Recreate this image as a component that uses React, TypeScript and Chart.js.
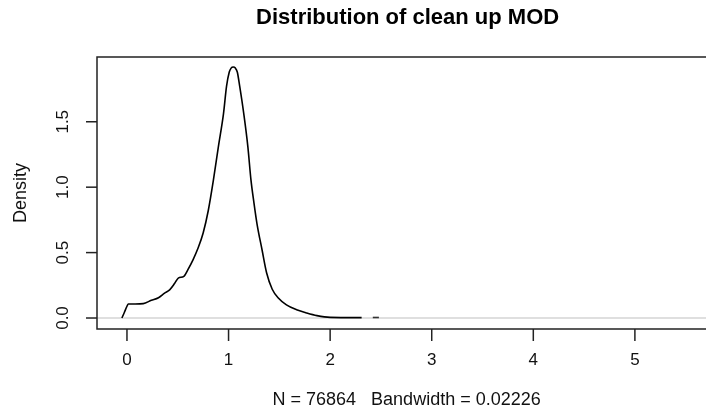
import { useEffect, useRef } from "react";
import { Chart, registerables } from "chart.js";

Chart.register(...registerables);

const chartTitle = "Distribution of clean up MOD";
const xAxisLabel = "N = 76864   Bandwidth = 0.02226";
const yAxisLabel = "Density";

const densityX = [
  -0.05, -0.027, 0.0, 0.013, 0.08, 0.16, 0.24, 0.31, 0.37, 0.42, 0.47, 0.505, 0.56, 0.6, 0.65, 0.7, 0.75,
  0.8, 0.85, 0.9, 0.95, 0.98, 1.007, 1.025, 1.046, 1.067, 1.086, 1.11, 1.15, 1.19, 1.22, 1.25, 1.28, 1.33,
  1.375, 1.43, 1.49, 1.57, 1.67, 1.77, 1.87, 2.0, 2.31,
];
const densityY = [
  0.0, 0.04, 0.09, 0.107, 0.107, 0.11, 0.135, 0.155, 0.19, 0.215, 0.265, 0.305, 0.318, 0.37, 0.445, 0.535,
  0.65, 0.82, 1.05, 1.31, 1.56, 1.77, 1.88, 1.91, 1.918, 1.91, 1.88, 1.77, 1.56, 1.31, 1.06, 0.88, 0.72,
  0.52, 0.344, 0.22, 0.153, 0.1, 0.063, 0.038, 0.018, 0.005, 0.003,
];
const tailX = [2.42, 2.48];
const tailY = [0.004, 0.004];

const xTicks = [0, 1, 2, 3, 4, 5];
const xTickLabels = ["0", "1", "2", "3", "4", "5"];
const yTicks = [0, 0.5, 1, 1.5];
const yTickLabels = ["0.0", "0.5", "1.0", "1.5"];

const xRange = [-0.295, 5.7];
const yRange = [-0.084, 1.995];

const FONT = "'Liberation Sans', Arial, sans-serif";

const rPlotPlugin = {
  id: "rPlot",
  beforeDatasetsDraw(chart: any) {
    const { ctx, chartArea, scales } = chart;
    const y0 = scales.y.getPixelForValue(0);
    ctx.save();
    ctx.strokeStyle = "#d4d4d4";
    ctx.lineWidth = 1.5;
    ctx.beginPath();
    ctx.moveTo(chartArea.left, y0);
    ctx.lineTo(chartArea.right, y0);
    ctx.stroke();
    ctx.restore();
  },
  afterDraw(chart: any) {
    const { ctx, chartArea, scales } = chart;
    const { left, right, top, bottom } = chartArea;
    ctx.save();
    ctx.strokeStyle = "#222";
    ctx.lineWidth = 1.5;
    // box (right side falls outside the picture)
    ctx.beginPath();
    ctx.moveTo(right + 2, top);
    ctx.lineTo(left, top);
    ctx.lineTo(left, bottom);
    ctx.lineTo(right + 2, bottom);
    ctx.stroke();

    ctx.fillStyle = "#111";
    ctx.font = `17px ${FONT}`;
    // x ticks
    ctx.textAlign = "center";
    ctx.textBaseline = "middle";
    xTicks.forEach((v, i) => {
      const px = scales.x.getPixelForValue(v);
      ctx.beginPath();
      ctx.moveTo(px, bottom);
      ctx.lineTo(px, bottom + 12);
      ctx.stroke();
      ctx.fillText(xTickLabels[i], px, bottom + 31);
    });
    // y ticks
    yTicks.forEach((v, i) => {
      const py = scales.y.getPixelForValue(v);
      ctx.beginPath();
      ctx.moveTo(left, py);
      ctx.lineTo(left - 11, py);
      ctx.stroke();
      ctx.save();
      ctx.translate(left - 34, py);
      ctx.rotate(-Math.PI / 2);
      ctx.fillText(yTickLabels[i], 0, 0);
      ctx.restore();
    });
    // axis labels
    const cx = (left + scales.x.getPixelForValue(xRange[1] + 0.16)) / 2;
    ctx.font = `18px ${FONT}`;
    ctx.fillText(xAxisLabel, cx - 3, 400);
    ctx.save();
    ctx.translate(21, (top + bottom) / 2);
    ctx.rotate(-Math.PI / 2);
    ctx.fillText(yAxisLabel, 0, 0);
    ctx.restore();
    // title
    ctx.font = `bold 22px ${FONT}`;
    ctx.fillStyle = "#000";
    ctx.fillText(chartTitle, cx - 2, 18);
    ctx.restore();
  },
};

export default function App() {
  const canvasRef = useRef<HTMLCanvasElement | null>(null);

  useEffect(() => {
    if (!canvasRef.current) return;
    const chart = new Chart(canvasRef.current, {
      type: "line",
      data: {
        datasets: [
          {
            data: densityX.map((x, i) => ({ x, y: densityY[i] })),
            borderColor: "#000",
            borderWidth: 1.6,
            pointRadius: 0,
            cubicInterpolationMode: "monotone",
            fill: false,
          },
          {
            data: tailX.map((x, i) => ({ x, y: tailY[i] })),
            borderColor: "#333",
            borderWidth: 1.6,
            pointRadius: 0,
            fill: false,
          },
        ],
      },
      options: {
        animation: false,
        responsive: false,
        maintainAspectRatio: false,
        layout: { padding: { left: 97, top: 57, right: 0, bottom: 82 } },
        plugins: { legend: { display: false }, tooltip: { enabled: false }, title: { display: false } },
        scales: {
          x: { type: "linear", min: xRange[0], max: xRange[1], display: false },
          y: { type: "linear", min: yRange[0], max: yRange[1], display: false },
        },
      },
      plugins: [rPlotPlugin],
    });
    return () => chart.destroy();
  }, []);

  return (
    <div style={{ position: "fixed", left: 0, top: 0, width: 706, height: 411, background: "#fff" }}>
      <canvas ref={canvasRef} width={706} height={411} style={{ width: 706, height: 411 }} />
    </div>
  );
}
